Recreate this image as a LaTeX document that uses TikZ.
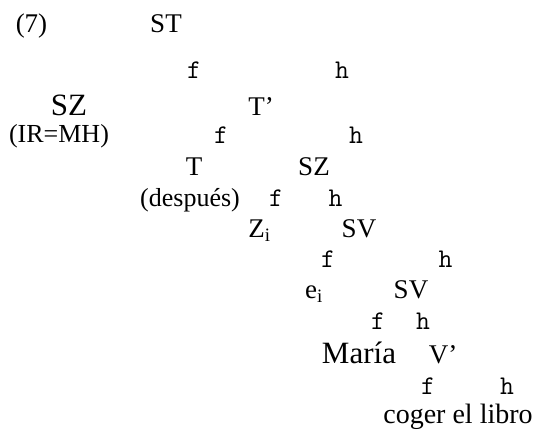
\documentclass[tikz,border=0pt]{standalone}
\usepackage{fontspec}
\setmainfont{Liberation Serif}

\begin{document}
\begin{tikzpicture}[x=1pt, y=-1pt,
    cat/.style={anchor=base, inner sep=0pt, font=\fontsize{27}{30}\selectfont},
    bigcat/.style={cat, font=\fontsize{31}{34}\selectfont},
    note/.style={cat, font=\fontsize{26}{28}\selectfont},
    branch/.style={anchor=base, inner sep=0pt, font=\ttfamily\fontsize{27}{30}\selectfont}
]
    \useasboundingbox (0,0) rectangle (549,430);

    \node[cat] (num) at (31.5,33) {(7)};
    \node[cat] (st) at (166,33) {ST};
    \node[branch] (stl) at (194,79) {f};
    \node[branch] (str) at (342,79) {h};

    \node[bigcat] (sztop) at (69,116) {SZ};
    \node[note] (ir) at (59,143) {(IR=MH)};
    \node[cat] (tbar) at (261,116) {T’};
    \node[branch] (tbarl) at (221,144) {f};
    \node[branch] (tbarr) at (356,144) {h};

    \node[cat] (t) at (194,176) {T};
    \node[note] (desp) at (190,207) {(después)};
    \node[cat] (szlow) at (314,176) {SZ};
    \node[branch] (szl) at (276,207) {f};
    \node[branch] (szr) at (335.5,207) {h};

    \node[cat] (zi) at (259.5,238) {Z\textsubscript{i}};
    \node[cat] (svtop) at (359,238) {SV};
    \node[branch] (svl) at (328,268) {f};
    \node[branch] (svr) at (445.5,268) {h};

    \node[cat] (ei) at (314,299) {e\textsubscript{i}};
    \node[cat] (svlow) at (411,299) {SV};
    \node[branch] (svll) at (378,330) {f};
    \node[branch] (svlr) at (423,330) {h};

    \node[bigcat] (maria) at (359,363) {María};
    \node[cat] (vbar) at (443,363) {V’};
    \node[branch] (vbarl) at (428,395) {f};
    \node[branch] (vbarr) at (507,395) {h};

    \node[cat, font=\fontsize{28}{30}\selectfont] (coger) at (458,423) {coger el libro};
\end{tikzpicture}
\end{document}
